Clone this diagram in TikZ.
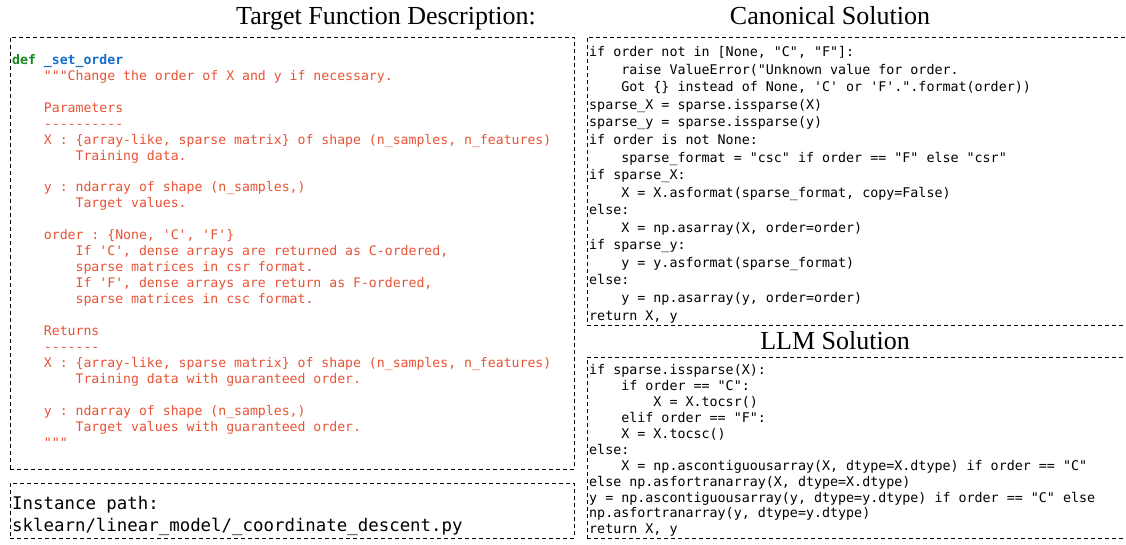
\documentclass[tikz,border=0pt]{standalone}
\usepackage{fontspec}
\newfontfamily\codefont{DejaVu Sans Mono}
\newfontfamily\titlefont{Liberation Serif}
\definecolor{kwgreen}{RGB}{20,135,30}
\definecolor{fnblue}{RGB}{20,110,200}
\definecolor{docred}{RGB}{232,82,52}
\newcommand\tb{\phantom{0000}}

\begin{document}
\begin{tikzpicture}[x=1pt,y=-1pt,
  dashbox/.style={draw,line width=.9pt,dash pattern=on 4pt off 3pt,inner sep=0pt,anchor=north west},
  headline/.style={font=\titlefont\fontsize{26}{30}\selectfont,anchor=base,inner sep=0pt},
  codetext/.style={anchor=north west,inner sep=0pt,align=left}]
% Opis funkcji, rozwiazanie wzorcowe i rozwiazanie LLM
\useasboundingbox (0,0) rectangle (1126,545);
\clip (0,0) rectangle (1126,545);
\node[dashbox,minimum width=564pt,minimum height=432pt] (descbox) at (10,37) {};
\node[dashbox,minimum width=564pt,minimum height=55pt] (pathbox) at (10,483) {};
\node[dashbox,minimum width=545pt,minimum height=288pt] (canonbox) at (587,37) {};
\node[dashbox,minimum width=545pt,minimum height=181pt] (llmbox) at (587,357) {};
\node[headline] (desctitle) at (386,25) {Target Function Description:};
\node[headline] (canontitle) at (830,25) {Canonical Solution};
\node[headline] (llmtitle) at (835,349) {LLM Solution};
\node[codetext,text=docred,font=\codefont\fontsize{13.17}{15.95}\selectfont\frenchspacing] (desctext) at (12,53)
 {\strut{\bfseries\textcolor{kwgreen}{def} \textcolor{fnblue}{\_set\_order}}\\
 \tb"""Change the order of X and y if necessary.\\
 \mbox{}\\
 \tb Parameters\\
 \tb----------\\
 \tb X : \{array-like, sparse matrix\} of shape (n\_samples, n\_features)\\
 \tb\tb Training data.\\
 \mbox{}\\
 \tb y : ndarray of shape (n\_samples,)\\
 \tb\tb Target values.\\
 \mbox{}\\
 \tb order : \{None, 'C', 'F'\}\\
 \tb\tb If 'C', dense arrays are returned as C-ordered,\\
 \tb\tb sparse matrices in csr format.\\
 \tb\tb If 'F', dense arrays are return as F-ordered,\\
 \tb\tb sparse matrices in csc format.\\
 \mbox{}\\
 \tb Returns\\
 \tb-------\\
 \tb X : \{array-like, sparse matrix\} of shape (n\_samples, n\_features)\\
 \tb\tb Training data with guaranteed order.\\
 \mbox{}\\
 \tb y : ndarray of shape (n\_samples,)\\
 \tb\tb Target values with guaranteed order.\\
 \tb"""};
\node[codetext,font=\codefont\fontsize{17.4}{22}\selectfont\frenchspacing] (pathtext) at (12,494)
 {\strut Instance path:\\
 sklearn/linear\_model/\_coordinate\_descent.py};
\node[codetext,font=\codefont\fontsize{13.34}{17.55}\selectfont\frenchspacing] (canontext) at (589,44.3)
 {\strut if order not in [None, "C", "F"]:\\
 \tb raise ValueError("Unknown value for order.\\
 \tb Got \{\} instead of None, 'C' or 'F'.".format(order))\\
 sparse\_X = sparse.issparse(X)\\
 sparse\_y = sparse.issparse(y)\\
 if order is not None:\\
 \tb sparse\_format = "csc" if order == "F" else "csr"\\
 if sparse\_X:\\
 \tb X = X.asformat(sparse\_format, copy=False)\\
 else:\\
 \tb X = np.asarray(X, order=order)\\
 if sparse\_y:\\
 \tb y = y.asformat(sparse\_format)\\
 else:\\
 \tb y = np.asarray(y, order=order)\\
 return X, y};
\node[codetext,font=\codefont\fontsize{13.34}{15.9}\selectfont\frenchspacing] (llmtext) at (589,363.5)
 {\strut if sparse.issparse(X):\\
 \tb if order == "C":\\
 \tb\tb X = X.tocsr()\\
 \tb elif order == "F":\\
 \tb X = X.tocsc()\\
 else:\\
 \tb X = np.ascontiguousarray(X, dtype=X.dtype) if order == "C"\\
 else np.asfortranarray(X, dtype=X.dtype)\\
 y = np.ascontiguousarray(y, dtype=y.dtype) if order == "C" else\\
 np.asfortranarray(y, dtype=y.dtype)\\
 return X, y};
\end{tikzpicture}
\end{document}
